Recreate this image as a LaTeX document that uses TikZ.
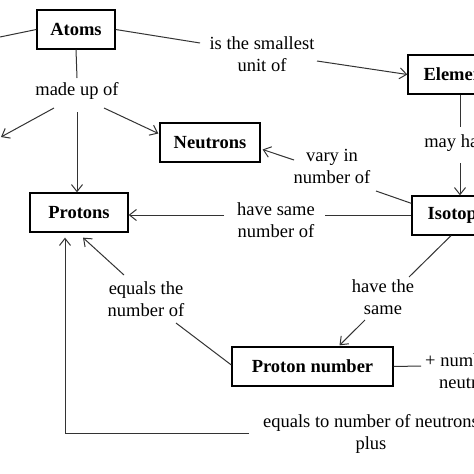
\documentclass[tikz,border=0pt]{standalone}
\usepackage{fontspec}
\setmainfont{Liberation Serif}
\usetikzlibrary{arrows.meta,calc}
\begin{document}
\begin{tikzpicture}[x=1pt,y=-1pt,
  every node/.style={font=\fontsize{18.5}{22}\selectfont},
  conbox/.style={draw=black,line width=1.3pt,minimum height=39pt,inner sep=0pt,font=\fontsize{18.5}{22}\selectfont\bfseries},
  lbl/.style={align=center,inner sep=1pt},
  conn/.style={draw=black!80,line width=1pt},
  arr/.style={conn,-{Straight Barb[length=7pt,width=11pt]}}]
\useasboundingbox (0,0) rectangle (474,474);
\clip (0,0) rectangle (474,474);
\fill[white] (0,0) rectangle (474,474);
% concept boxes
\node[conbox,minimum width=78pt] (Atoms) at (76,29.5) {Atoms};
\node[conbox,minimum width=100pt] (Neutrons) at (210,142.5) {Neutrons};
\node[conbox,minimum width=98pt] (Protons) at (79,212.5) {Protons};
\node[conbox,minimum width=104pt] (Elements) at (460,74.5) {Elements};
\node[conbox,minimum width=96pt] (Isotopes) at (460,215.5) {Isotopes};
\node[conbox,minimum width=161pt] (PN) at (312.5,366.5) {Proton number};
% link labels
\node[lbl] (made) at (77,91) {made up of};
\node[lbl] (smallest) at (262,54) {is the smallest\\unit of};
\node[lbl] (vary) at (332,166) {vary in\\number of};
\node[lbl] (have) at (276,220) {have same\\number of};
\node[lbl] (may) at (460,143) {may have};
\node[lbl] (hthe) at (383,297) {have the\\same};
\node[lbl] (eq) at (146,299) {equals the\\number of};
\node[lbl] (plus) at (471,371) {+ number of\\neutrons};
\node[lbl] (eqn) at (371,434) {equals to number of neutrons\\plus};
% off-page ends and label ports
\coordinate (offA) at (0,37);
\coordinate (offE) at (1,137);
\coordinate (mdown) at ($(made)+(0,21)$);
% connectors
\draw[conn] (Atoms.west) -- (offA);
\draw[conn] (Atoms.east) -- ($(smallest)+(-62,-11)$);
\draw[arr] ($(smallest)+(55,7)$) -- (Elements.west);
\draw[conn] (Atoms.south) -- ($(made)+(0,-13)$);
\draw[arr] ($(made)+(-23,17)$) -- (offE);
\draw[arr] (mdown) -- (mdown |- Protons.north);
\draw[arr] ($(made)+(27,17)$) -- ($(Neutrons.west)+(-1,-9)$);
\draw[conn] (Elements.south) -- ($(may)+(0,-16)$);
\draw[arr] ($(may)+(0,20)$) -- (Isotopes.north);
\draw[conn] ($(Isotopes.north west)+(0,8)$) -- ($(vary)+(44,25)$);
\draw[arr] ($(vary)+(-38,-6)$) -- ($(Neutrons.east)+(2,7)$);
\draw[conn] ($(Isotopes.west)+(0,-0.5)$) -- ($(have)+(49,-5)$);
\draw[arr] ($(have)+(-52,-5)$) -- ($(Protons.east)+(0,2.5)$);
\draw[conn] ($(Isotopes.south)+(-9,0)$) -- ($(hthe)+(26,-20)$);
\draw[arr] ($(hthe)+(-18,23)$) -- ($(PN.north)+(27,-1)$);
\draw[conn] ($(PN.west)+(0,-1.5)$) -- ($(eq)+(30,24)$);
\draw[arr] ($(eq)+(-22,-24)$) -- ($(Protons.south)+(4,5)$);
\draw[conn] (PN.east) -- ($(plus)+(-50,-5)$);
\draw[arr] ($(eqn)+(-122,-1)$) -| ($(Protons.south)+(-14,5)$);
\end{tikzpicture}
\end{document}
